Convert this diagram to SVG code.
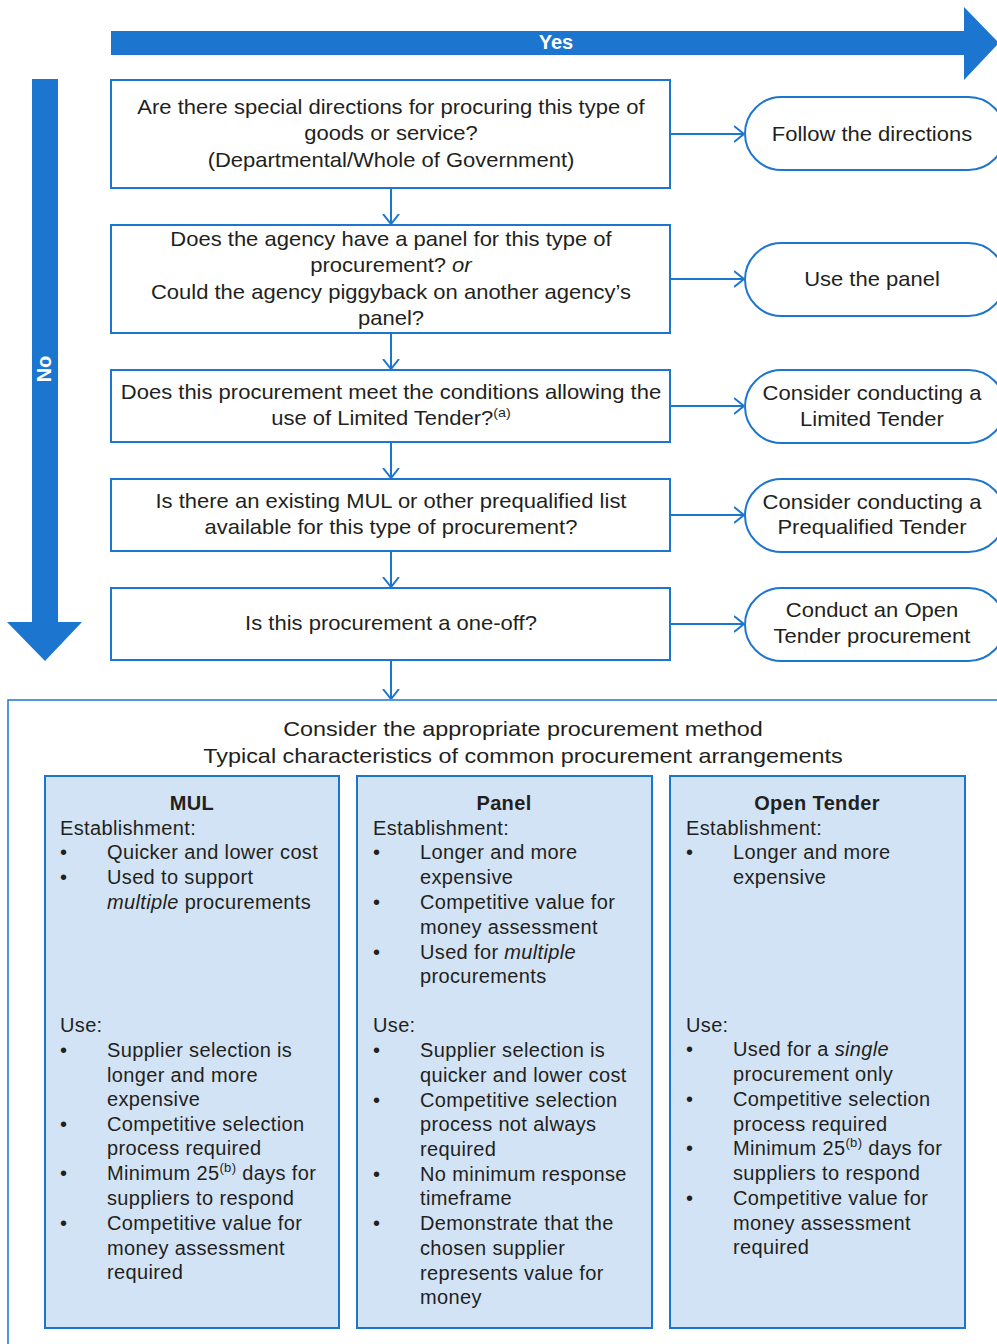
<svg xmlns="http://www.w3.org/2000/svg" width="997" height="1344" viewBox="0 0 997 1344">
<defs>
<style>
text{font-family:"Liberation Sans",Arial,sans-serif;font-size:20px;fill:#231f20}
.c{text-anchor:middle}
.b{font-weight:bold;letter-spacing:0.5px}
.w{fill:#ffffff;font-weight:bold}
.p text{letter-spacing:0.35px}
.box{fill:#ffffff;stroke:#1c75cf;stroke-width:2}
.pill{fill:#ffffff;stroke:#1c75cf;stroke-width:2}
.panel{fill:#d2e3f5;stroke:#1c75cf;stroke-width:2}
.con{stroke:#1c75cf;stroke-width:2;fill:none}
.big{fill:#1c75cf}
</style>
<marker id="arr" markerUnits="userSpaceOnUse" viewBox="0 0 10 18" refX="10" refY="9" markerWidth="10" markerHeight="18" orient="auto">
<path d="M0,1 L10,9 L0,17" fill="none" stroke="#1c75cf" stroke-width="2"/>
</marker>
</defs>
<rect width="997" height="1344" fill="#ffffff"/>

<g id="yes-arrow">
<path class="big" d="M111,31 L964,31 L964,7 L999,43 L964,80 L964,55 L111,55 Z"/>
<text class="w c" x="556" y="49">Yes</text>
</g>
<g id="no-arrow">
<path class="big" d="M32,79 L58,79 L58,622 L82,622 L45,661 L7,622 L32,622 Z"/>
<text class="w c" transform="translate(51,369) rotate(-90)" x="0" y="0">No</text>
</g>

<g id="connectors">
<line class="con" x1="391" y1="188" x2="391" y2="224" marker-end="url(#arr)"/>
<line class="con" x1="391" y1="333" x2="391" y2="369" marker-end="url(#arr)"/>
<line class="con" x1="391" y1="442" x2="391" y2="478" marker-end="url(#arr)"/>
<line class="con" x1="391" y1="551" x2="391" y2="587" marker-end="url(#arr)"/>
<line class="con" x1="391" y1="660" x2="391" y2="699" marker-end="url(#arr)"/>
<line class="con" x1="670" y1="134" x2="744" y2="134" marker-end="url(#arr)"/>
<line class="con" x1="670" y1="279" x2="744" y2="279" marker-end="url(#arr)"/>
<line class="con" x1="670" y1="406" x2="744" y2="406" marker-end="url(#arr)"/>
<line class="con" x1="670" y1="515" x2="744" y2="515" marker-end="url(#arr)"/>
<line class="con" x1="670" y1="624" x2="744" y2="624" marker-end="url(#arr)"/>
</g>

<g id="q1">
<rect class="box" x="111" y="80" width="559" height="108"/>
<g transform="translate(391,0) scale(1.1,1) translate(-391,0)">
<text class="c" x="391" y="114">Are there special directions for procuring this type of</text>
<text class="c" x="391" y="140">goods or service?</text>
<text class="c" x="391" y="167">(Departmental/Whole of Government)</text>
</g>
</g>
<g id="q2">
<rect class="box" x="111" y="225" width="559" height="108"/>
<g transform="translate(391,0) scale(1.1,1) translate(-391,0)">
<text class="c" x="391" y="246">Does the agency have a panel for this type of</text>
<text class="c" x="391" y="272">procurement? <tspan font-style="italic">or</tspan></text>
<text class="c" x="391" y="299">Could the agency piggyback on another agency’s</text>
<text class="c" x="391" y="325">panel?</text>
</g>
</g>
<g id="q3">
<rect class="box" x="111" y="370" width="559" height="72"/>
<g transform="translate(391,0) scale(1.1,1) translate(-391,0)">
<text class="c" x="391" y="399">Does this procurement meet the conditions allowing the</text>
<text class="c" x="391" y="425">use of Limited Tender?<tspan font-size="13" dy="-8">(a)</tspan></text>
</g>
</g>
<g id="q4">
<rect class="box" x="111" y="479" width="559" height="72"/>
<g transform="translate(391,0) scale(1.1,1) translate(-391,0)">
<text class="c" x="391" y="508">Is there an existing MUL or other prequalified list</text>
<text class="c" x="391" y="534">available for this type of procurement?</text>
</g>
</g>
<g id="q5">
<rect class="box" x="111" y="588" width="559" height="72"/>
<g transform="translate(391,0) scale(1.1,1) translate(-391,0)">
<text class="c" x="391" y="630">Is this procurement a one-off?</text>
</g>
</g>

<g id="r1">
<rect class="pill" x="745" y="97" width="260" height="73" rx="36.5"/>
<g transform="translate(872,0) scale(1.1,1) translate(-872,0)">
<text class="c" x="872" y="141">Follow the directions</text>
</g>
</g>
<g id="r2">
<rect class="pill" x="745" y="243" width="260" height="73" rx="36.5"/>
<g transform="translate(872,0) scale(1.1,1) translate(-872,0)">
<text class="c" x="872" y="286">Use the panel</text>
</g>
</g>
<g id="r3">
<rect class="pill" x="745" y="370" width="260" height="73" rx="36.5"/>
<g transform="translate(872,0) scale(1.1,1) translate(-872,0)">
<text class="c" x="872" y="400">Consider conducting a</text>
<text class="c" x="872" y="426">Limited Tender</text>
</g>
</g>
<g id="r4">
<rect class="pill" x="745" y="479" width="260" height="73" rx="36.5"/>
<g transform="translate(872,0) scale(1.1,1) translate(-872,0)">
<text class="c" x="872" y="509">Consider conducting a</text>
<text class="c" x="872" y="534">Prequalified Tender</text>
</g>
</g>
<g id="r5">
<rect class="pill" x="745" y="588" width="260" height="73" rx="36.5"/>
<g transform="translate(872,0) scale(1.1,1) translate(-872,0)">
<text class="c" x="872" y="617">Conduct an Open</text>
<text class="c" x="872" y="643">Tender procurement</text>
</g>
</g>

<g id="methods">
<rect x="8" y="700" width="1000" height="660" fill="#ffffff" stroke="#1c75cf" stroke-width="1.5"/>
<g transform="translate(523,0) scale(1.17,1) translate(-523,0)">
<text class="c" x="523" y="736">Consider the appropriate procurement method</text>
<text class="c" x="523" y="763">Typical characteristics of common procurement arrangements</text>
</g>
</g>

<g id="mul" class="p">
<rect class="panel" x="45" y="776" width="294" height="552"/>
<text class="c b" x="192" y="810">MUL</text>
<text x="60" y="835">Establishment:</text>
<text x="60" y="859">•</text><text x="107" y="859">Quicker and lower cost</text>
<text x="60" y="884">•</text><text x="107" y="884">Used to support</text>
<text x="107" y="909"><tspan font-style="italic">multiple</tspan> procurements</text>
<text x="60" y="1032">Use:</text>
<text x="60" y="1057">•</text><text x="107" y="1057">Supplier selection is</text>
<text x="107" y="1082">longer and more</text>
<text x="107" y="1106">expensive</text>
<text x="60" y="1131">•</text><text x="107" y="1131">Competitive selection</text>
<text x="107" y="1155">process required</text>
<text x="60" y="1180">•</text><text x="107" y="1180">Minimum 25<tspan font-size="13" dy="-8">(b)</tspan><tspan dy="8"> days for</tspan></text>
<text x="107" y="1205">suppliers to respond</text>
<text x="60" y="1230">•</text><text x="107" y="1230">Competitive value for</text>
<text x="107" y="1255">money assessment</text>
<text x="107" y="1279">required</text>
</g>

<g id="panel" class="p">
<rect class="panel" x="357" y="776" width="295" height="552"/>
<text class="c b" x="504" y="810">Panel</text>
<text x="373" y="835">Establishment:</text>
<text x="373" y="859">•</text><text x="420" y="859">Longer and more</text>
<text x="420" y="884">expensive</text>
<text x="373" y="909">•</text><text x="420" y="909">Competitive value for</text>
<text x="420" y="934">money assessment</text>
<text x="373" y="959">•</text><text x="420" y="959">Used for <tspan font-style="italic">multiple</tspan></text>
<text x="420" y="983">procurements</text>
<text x="373" y="1032">Use:</text>
<text x="373" y="1057">•</text><text x="420" y="1057">Supplier selection is</text>
<text x="420" y="1082">quicker and lower cost</text>
<text x="373" y="1107">•</text><text x="420" y="1107">Competitive selection</text>
<text x="420" y="1131">process not always</text>
<text x="420" y="1156">required</text>
<text x="373" y="1181">•</text><text x="420" y="1181">No minimum response</text>
<text x="420" y="1205">timeframe</text>
<text x="373" y="1230">•</text><text x="420" y="1230">Demonstrate that the</text>
<text x="420" y="1255">chosen supplier</text>
<text x="420" y="1280">represents value for</text>
<text x="420" y="1304">money</text>
</g>

<g id="open-tender" class="p">
<rect class="panel" x="670" y="776" width="295" height="552"/>
<text class="c b" x="817" y="810">Open Tender</text>
<text x="686" y="835">Establishment:</text>
<text x="686" y="859">•</text><text x="733" y="859">Longer and more</text>
<text x="733" y="884">expensive</text>
<text x="686" y="1032">Use:</text>
<text x="686" y="1056">•</text><text x="733" y="1056">Used for a <tspan font-style="italic">single</tspan></text>
<text x="733" y="1081">procurement only</text>
<text x="686" y="1106">•</text><text x="733" y="1106">Competitive selection</text>
<text x="733" y="1131">process required</text>
<text x="686" y="1155">•</text><text x="733" y="1155">Minimum 25<tspan font-size="13" dy="-8">(b)</tspan><tspan dy="8"> days for</tspan></text>
<text x="733" y="1180">suppliers to respond</text>
<text x="686" y="1205">•</text><text x="733" y="1205">Competitive value for</text>
<text x="733" y="1230">money assessment</text>
<text x="733" y="1254">required</text>
</g>
</svg>
